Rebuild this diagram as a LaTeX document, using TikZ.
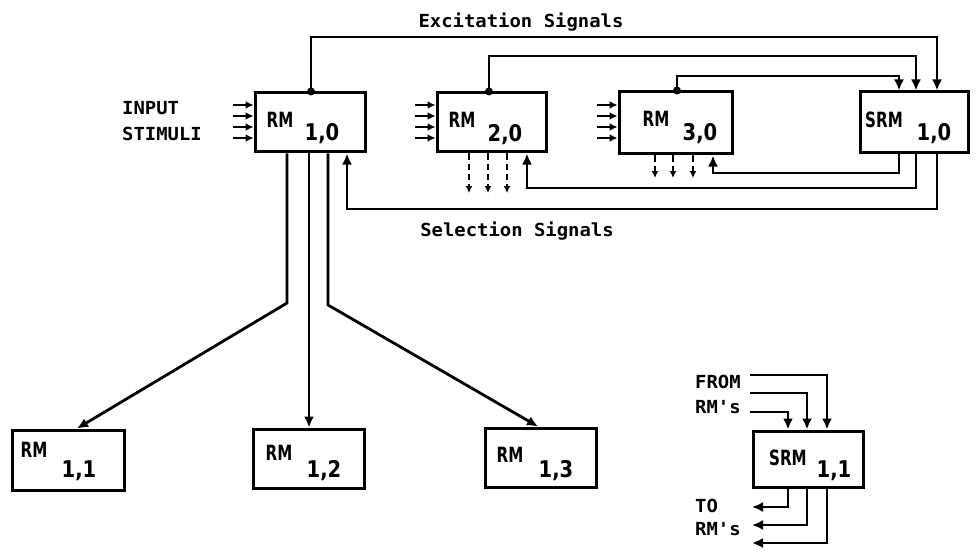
\documentclass[tikz,border=0pt]{standalone}
\usepackage{fontspec}
\newfontfamily\lblfont[FakeStretch=1.05]{DejaVu Sans Mono}
\newfontfamily\rmfont[FakeStretch=0.72]{DejaVu Sans}
\newfontfamily\numfont[FakeStretch=0.85]{DejaVu Sans}
\usetikzlibrary{arrows.meta,calc}
\tikzset{
  blk/.style={draw, line width=3pt, inner sep=0pt},
  wire/.style={line width=2.8pt},
  arr/.style={wire, -{Latex[length=11pt,width=10pt]}},
  sarr/.style={line width=2.3pt, -{Latex[length=8pt,width=8pt]}},
  dsh/.style={line width=2pt, dash pattern=on 6pt off 4pt, -{Latex[length=7pt,width=7pt]}},
  rmt/.style={font=\rmfont\bfseries\fontsize{21}{21}\selectfont, inner sep=0pt, anchor=base},
  numt/.style={font=\numfont\bfseries\fontsize{23}{23}\selectfont, inner sep=0pt, anchor=base},
  lbl/.style={font=\lblfont\bfseries\fontsize{18}{18}\selectfont, inner sep=0pt},
  jdot/.style={fill, circle, inner sep=0pt, minimum size=8pt},
}
\begin{document}
\begin{tikzpicture}[x=1pt,y=-1pt]
\useasboundingbox (0,0) rectangle (977,559);

% boxes
\node[blk, minimum width=110pt, minimum height=59pt] (rm10) at (310,122.5) {};
\node[blk, minimum width=109pt, minimum height=59pt] (rm20) at (491.5,122.5) {};
\node[blk, minimum width=113pt, minimum height=62pt] (rm30) at (675.5,123) {};
\node[blk, minimum width=108pt, minimum height=61pt] (srm10) at (914,122.5) {};
\node[blk, minimum width=112pt, minimum height=60pt] (rm11) at (68,460) {};
\node[blk, minimum width=111pt, minimum height=59pt] (rm12) at (308.5,458.5) {};
\node[blk, minimum width=111pt, minimum height=59pt] (rm13) at (540.5,457.5) {};
\node[blk, minimum width=110pt, minimum height=56pt] (srm11) at (808,459) {};

% box texts
\node[rmt] (rm10r) at (280,128) {RM};   \node[numt] (rm10n) at (322,140) {1,0};
\node[rmt] (rm20r) at (462,128) {RM};   \node[numt] (rm20n) at (505,142) {2,0};
\node[rmt] (rm30r) at (656,127) {RM};   \node[numt] (rm30n) at (700,140) {3,0};
\node[rmt] (srm10r) at (884,128) {SRM}; \node[numt] (srm10n) at (934,140) {1,0};
\node[rmt] (rm11r) at (34,457) {RM};    \node[numt] (rm11n) at (79,477) {1,1};
\node[rmt] (rm12r) at (279,460) {RM};   \node[numt] (rm12n) at (324,477) {1,2};
\node[rmt] (rm13r) at (510,462) {RM};   \node[numt] (rm13n) at (556,477) {1,3};
\node[rmt] (srm11r) at (788,465) {SRM}; \node[numt] (srm11n) at (834,477) {1,1};

% labels
\node[lbl, anchor=base] (exc) at (521,28) {Excitation Signals};
\node[lbl, anchor=base] (sel) at (517,236) {Selection Signals};
\node[lbl, anchor=base west] (inp) at (122,115) {INPUT};
\node[lbl, anchor=base west] (stim) at (122,140) {STIMULI};
\node[lbl, anchor=base west] (from) at (695,388) {FROM};
\node[lbl, anchor=base west] (rms1) at (695,413) {RM's};
\node[lbl, anchor=base west] (to) at (695,512) {TO};
\node[lbl, anchor=base west] (rms2) at (695,535) {RM's};

% input stimuli arrows
\foreach \i/\y in {1/105,2/116,3/127,4/138}{
  \coordinate (ia\i) at (233,\y);
  \draw[sarr] (ia\i) -- (ia\i -| rm10.west);
  \coordinate (ib\i) at (415,\y);
  \draw[sarr] (ib\i) -- (ib\i -| rm20.west);
  \coordinate (ic\i) at (597,\y);
  \draw[sarr] (ic\i) -- (ic\i -| rm30.west);
}

% dashed outputs
\foreach \x in {469,488,507}{
  \coordinate (oa\x) at (\x,193);
  \draw[dsh] (\x,0 |- rm20.south) -- (oa\x);
}
\foreach \x in {655,673,693}{
  \coordinate (ob\x) at (\x,178);
  \draw[dsh] (\x,0 |- rm30.south) -- (ob\x);
}

% excitation signals
\draw[arr] (311,0 |- rm10.north) -- (311,37) -| (937,0 |- srm10.north);
\draw[arr] (489,0 |- rm20.north) -- (489,56) -| (916,0 |- srm10.north);
\draw[arr] (677,0 |- rm30.north) -- (677,76) -| (899,0 |- srm10.north);
\node[jdot] (d1) at (311,0 |- rm10.north) {};
\node[jdot] (d2) at (489,0 |- rm20.north) {};
\node[jdot] (d3) at (677,0 |- rm30.north) {};

% selection signals
\draw[arr] (899,0 |- srm10.south) -- (899,173) -| (713,0 |- rm30.south);
\draw[arr] (916,0 |- srm10.south) -- (916,188) -| (527,0 |- rm20.south);
\draw[arr] (937,0 |- srm10.south) -- (937,209) -| (347,0 |- rm10.south);

% tree to lower level
\draw[arr] (287,0 |- rm10.south) -- (287,303) -- (77,0 |- rm11.north);
\draw[arr] (309,0 |- rm10.south) -- (309,0 |- rm12.north);
\draw[arr] (328,0 |- rm10.south) -- (328,305) -- (538,0 |- rm13.north);

% SRM 1,1 inputs and outputs
\coordinate (f1) at (750,375);
\coordinate (f2) at (750,393);
\coordinate (f3) at (750,412);
\draw[arr] (f1) -| (827,0 |- srm11.north);
\draw[arr] (f2) -| (807,0 |- srm11.north);
\draw[arr] (f3) -| (788,0 |- srm11.north);
\coordinate (t1) at (752,507);
\coordinate (t2) at (752,525);
\coordinate (t3) at (752,543);
\draw[arr] (788,0 |- srm11.south) |- (t1);
\draw[arr] (807,0 |- srm11.south) |- (t2);
\draw[arr] (827,0 |- srm11.south) |- (t3);
\end{tikzpicture}
\end{document}
